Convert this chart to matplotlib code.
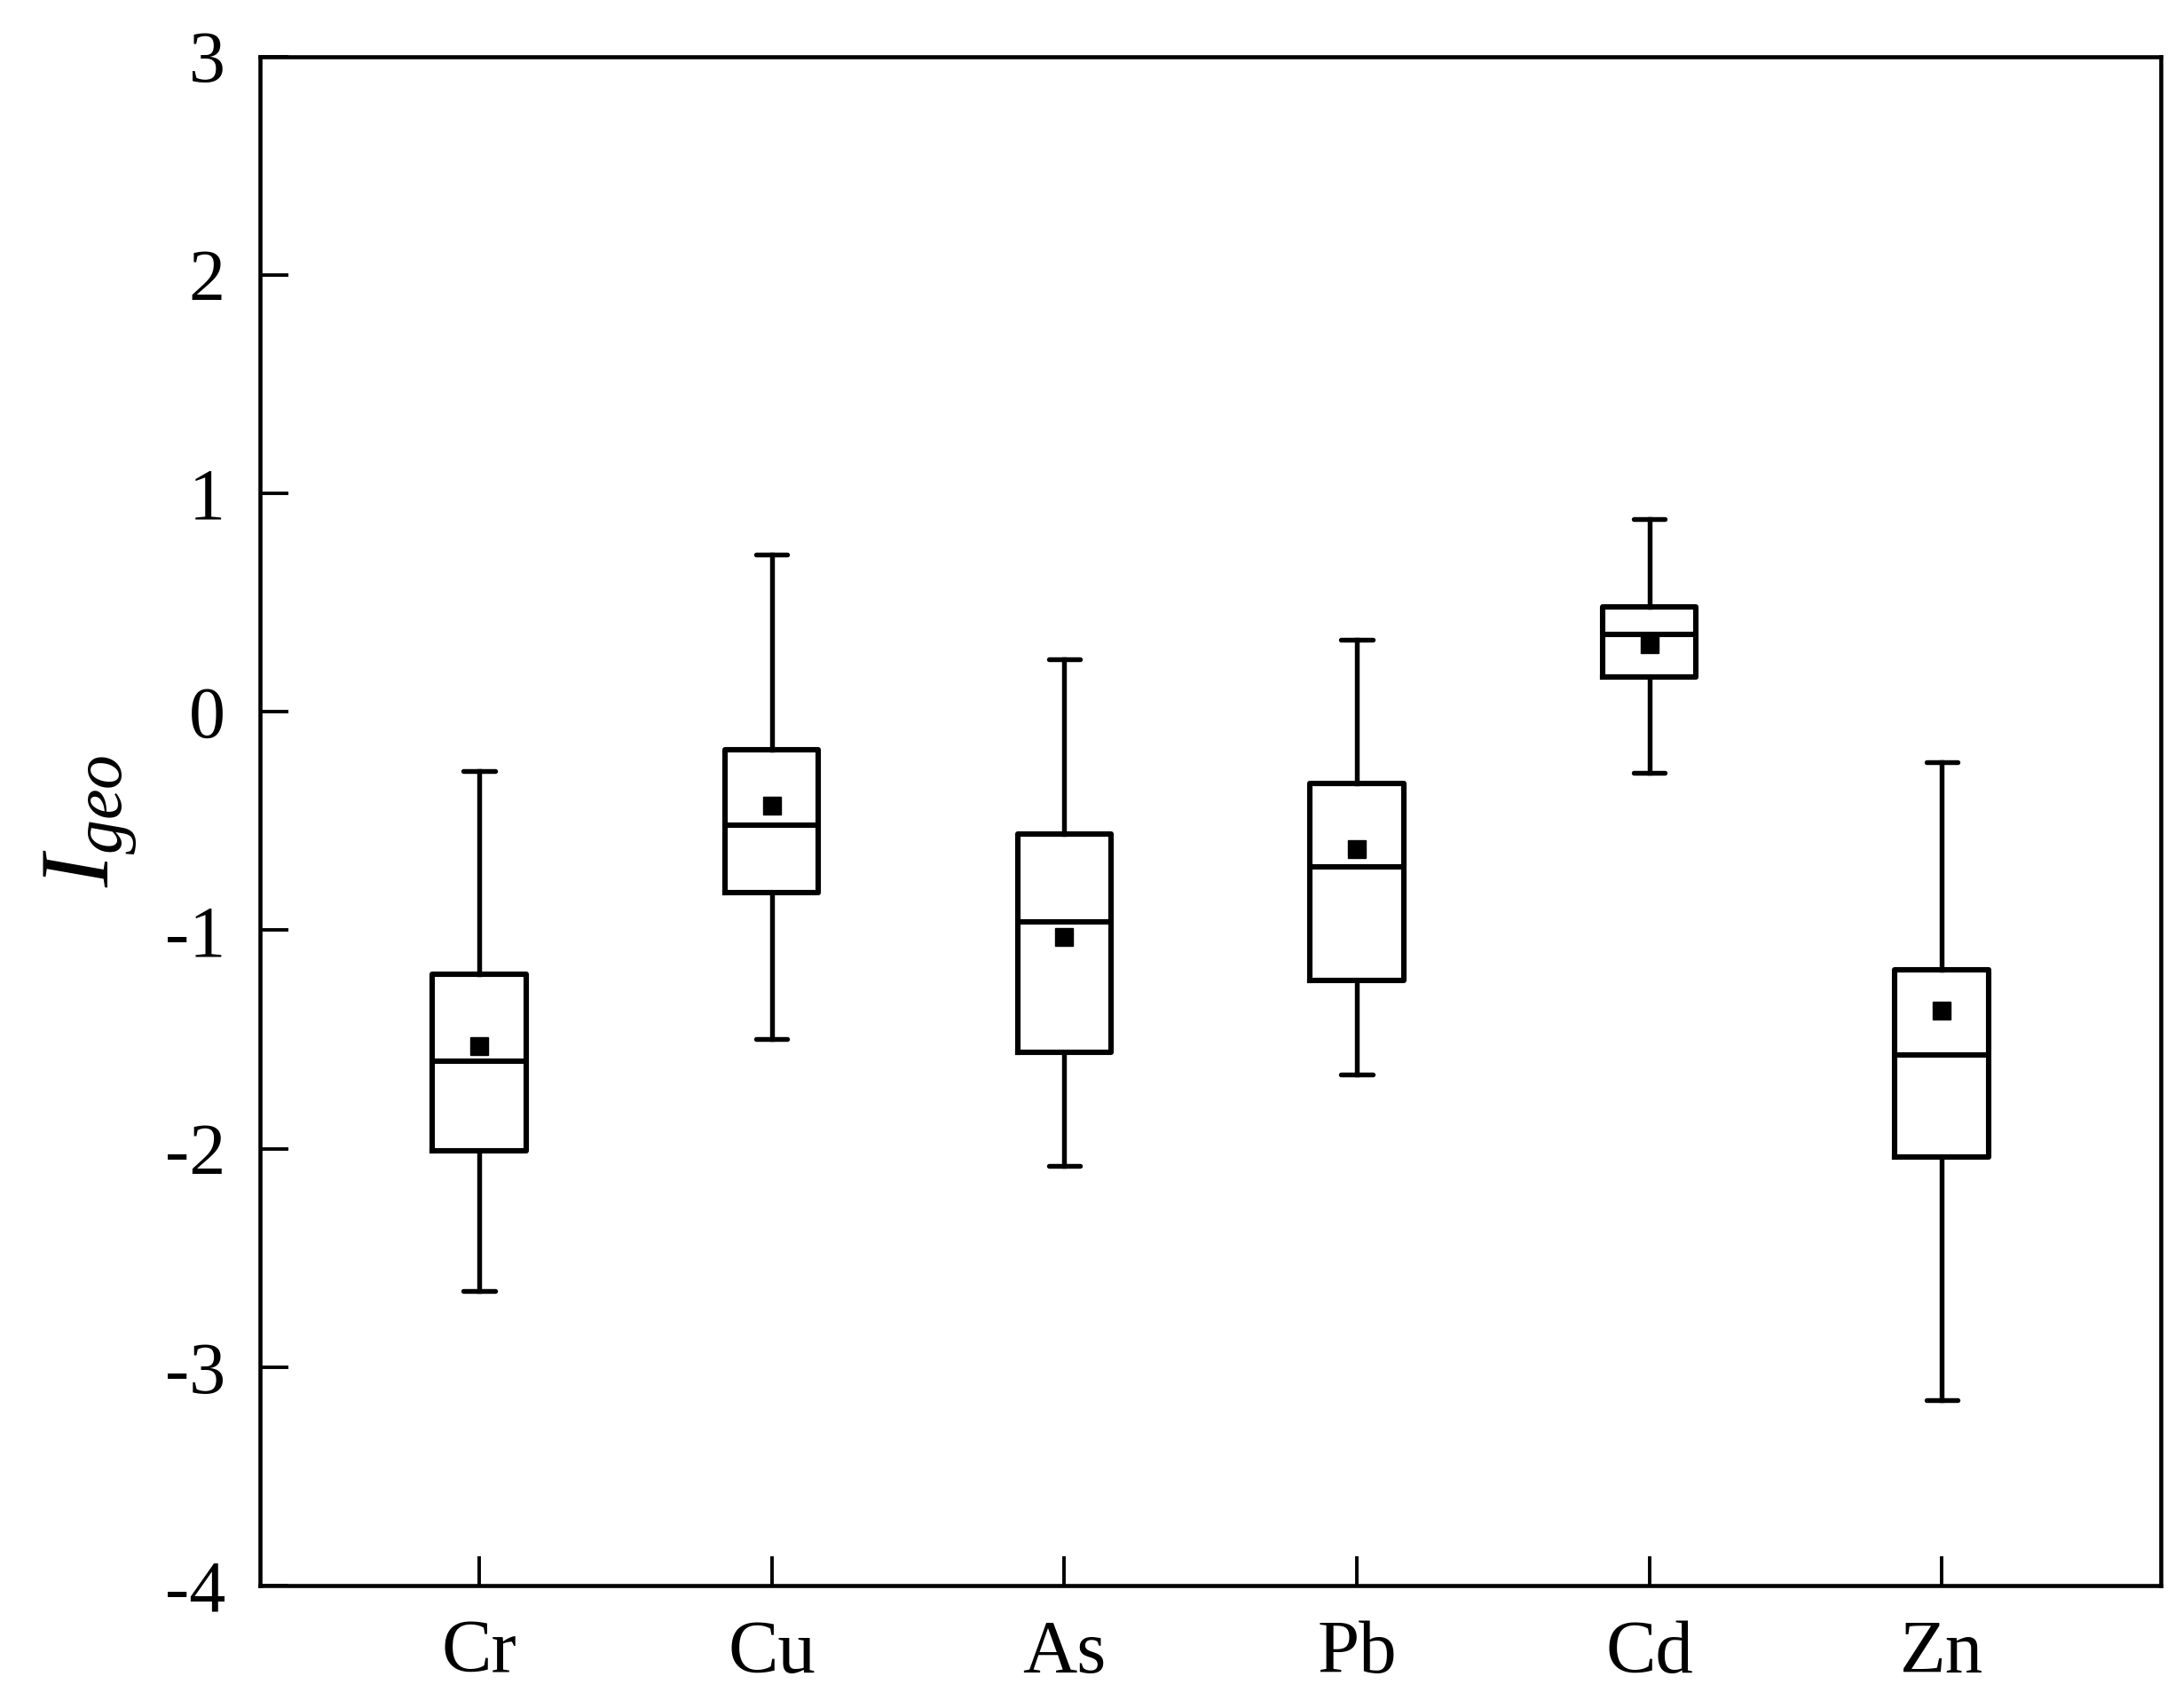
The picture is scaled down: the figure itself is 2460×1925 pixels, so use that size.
#!/usr/bin/env python3
"""Box plot of geo-accumulation index (Igeo) per heavy metal."""

import matplotlib
matplotlib.use("Agg")
import matplotlib.pyplot as plt

elements = ["Cr", "Cu", "As", "Pb", "Cd", "Zn"]
whisker_low = [-2.65, -1.50, -2.08, -1.66, -0.28, -3.15]
q1 = [-2.01, -0.83, -1.56, -1.23, 0.16, -2.04]
median = [-1.60, -0.52, -0.96, -0.71, 0.355, -1.57]
q3 = [-1.20, -0.175, -0.56, -0.33, 0.48, -1.18]
whisker_high = [-0.27, 0.72, 0.24, 0.33, 0.88, -0.23]
mean = [-1.53, -0.43, -1.03, -0.63, 0.31, -1.37]

plt.rcParams["font.family"] = ["Liberation Serif", "DejaVu Serif"]
plt.rcParams["mathtext.fontset"] = "custom"
plt.rcParams["mathtext.it"] = "Liberation Serif:italic"
plt.rcParams["mathtext.rm"] = "Liberation Serif"


def build_stats():
    stats = []
    for i, name in enumerate(elements):
        stats.append({
            "label": name,
            "whislo": whisker_low[i],
            "q1": q1[i],
            "med": median[i],
            "q3": q3[i],
            "whishi": whisker_high[i],
            "mean": mean[i],
            "fliers": [],
        })
    return stats


def main():
    fig = plt.figure(figsize=(24.6, 19.25), dpi=100)
    ax = fig.add_axes([0.119, 0.0717, 0.871, 0.8953])

    box_lw = 4.4
    line_lw = 3.9
    ax.bxp(
        build_stats(),
        positions=range(1, len(elements) + 1),
        widths=0.32,
        capwidths=0.107,
        showmeans=True,
        showfliers=False,
        boxprops=dict(color="black", linewidth=box_lw),
        medianprops=dict(color="black", linewidth=box_lw),
        whiskerprops=dict(color="black", linewidth=line_lw),
        capprops=dict(color="black", linewidth=line_lw, solid_capstyle="round"),
        meanprops=dict(marker="s", markerfacecolor="black",
                       markeredgecolor="black", markersize=15),
    )

    ax.set_xlim(0.25, 6.75)
    ax.set_ylim(-4, 3)
    ax.set_yticks(range(-4, 4))
    ax.set_yticklabels([str(v) for v in range(-4, 4)])
    ax.set_xticks(range(1, len(elements) + 1))
    ax.set_xticklabels(elements)

    for side in ax.spines.values():
        side.set_linewidth(3.3)

    ax.tick_params(axis="y", direction="in", length=23, width=2.8,
                   labelsize=59, pad=28)
    ax.tick_params(axis="x", direction="in", length=24, width=2.8,
                   labelsize=61, pad=28)

    ax.set_ylabel(r"$I_{geo}$", fontsize=80, labelpad=20)

    fig.savefig("out.png", dpi=100)
    plt.close(fig)


if __name__ == "__main__":
    main()
